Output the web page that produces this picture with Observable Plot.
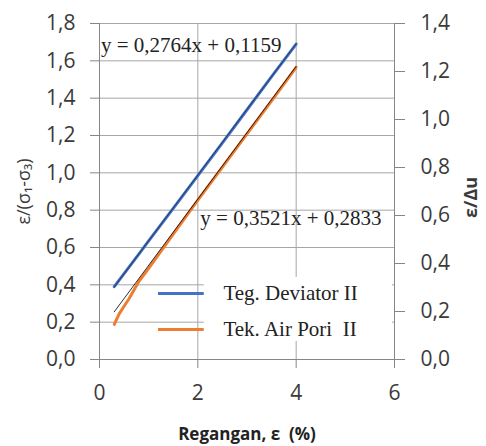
<!DOCTYPE html>
<html><head><meta charset="utf-8">
<script src="https://cdn.jsdelivr.net/npm/d3@7"></script>
<script src="https://cdn.jsdelivr.net/npm/@observablehq/plot@0.6"></script>
<style>html,body{margin:0;padding:0;background:#fff}</style>
</head><body><div id="chart"></div>
<script>
// Strain (%)
const strain = [0.3, 0.4, 0.5, 0.6, 0.8, 1.0, 1.5, 2.0, 2.5, 3.0, 3.5, 4.0];
// Teg. Deviator II  (left axis: ε/(σ1-σ3))
const deviator = [0.39, 0.425, 0.46, 0.495, 0.565, 0.635, 0.81, 0.985, 1.16, 1.338, 1.515, 1.69];
// Tek. Air Pori II  (right axis: ε/Δu)
const porePressure = [0.146, 0.19, 0.222, 0.253, 0.325, 0.38, 0.522, 0.664, 0.802, 0.94, 1.078, 1.217];
const seriesNames = ["Teg. Deviator II", "Tek. Air Pori  II"];
const seriesColors = ["#4472c4", "#ed7d31"];
// Trendline equations as printed on the chart
const trendSlopes = [0.3521, 0.2764];
const trendIntercepts = [0.2833, 0.1159];
const equationLabels = ["y = 0,2764x + 0,1159", "y = 0,3521x + 0,2833"];
// Axes
const xTicks = [0, 2, 4, 6];
const leftTicks = [0, 0.2, 0.4, 0.6, 0.8, 1.0, 1.2, 1.4, 1.6, 1.8];
const rightTicks = [0, 0.2, 0.4, 0.6, 0.8, 1.0, 1.2, 1.4];
const xLabel = "Regangan, ε  (%)";
const yLabel = "ε/(σ₁-σ₃)";
const y2Label = "ε/Δu";

const yMax = 1.8, y2Max = 1.4;
const k = yMax / y2Max; // right-axis values mapped onto left scale
const fmt = d => d3.format(".1f")(d).replace(".", ",");

// layout annotations (data coordinates)
const eqPos = [{x: 0.03, y: 1.65}, {x: 2.05, y: 0.718}];
const legendBox = {x1: 2.13, x2: 5.96, y1: 0.097, y2: 0.44};
const legendY = [0.354, 0.161];
const trendX = [0.3, 4.0];
const trendBlue = trendX.map(x => trendSlopes[0] * x + trendIntercepts[0]);
const trendOrange = trendX.map(x => (trendSlopes[1] * x + trendIntercepts[1]) * k);

const grid = "#a6a6a6", axisCol = "#868686", txt = "#3a3a3a";
const sans = "'Open Sans', 'Liberation Sans', 'DejaVu Sans', sans-serif";
const serif = "'Liberation Serif', 'DejaVu Serif', serif";

const chart = Plot.plot({
  width: 486, height: 446,
  marginLeft: 99, marginRight: 92, marginTop: 23, marginBottom: 87,
  x: {domain: [0, 6]},
  y: {domain: [0, yMax]},
  style: {fontFamily: sans, fontSize: "20px", color: txt, background: "#fff"},
  marks: [
    Plot.gridY(leftTicks, {stroke: grid, strokeOpacity: 1}),
    Plot.gridX(xTicks, {stroke: grid, strokeOpacity: 1}),
    Plot.rect([legendBox], {x1: "x1", x2: "x2", y1: "y1", y2: "y2", fill: "#fff"}),
    Plot.ruleY([0], {stroke: axisCol}),
    Plot.ruleX([0, 6], {stroke: axisCol}),
    Plot.axisY(leftTicks, {anchor: "left", tickSize: 9, tickPadding: 15, tickFormat: fmt, stroke: axisCol, fill: txt, fontSize: 21, label: null}),
    Plot.axisY(rightTicks.map(t => t * k), {anchor: "right", tickSize: 10, tickPadding: 16, tickFormat: d => fmt(d / k), stroke: axisCol, fill: txt, fontSize: 21, label: null}),
    Plot.axisX(xTicks, {anchor: "bottom", tickSize: 9, tickPadding: 17, tickFormat: d => String(d), stroke: axisCol, fill: txt, fontSize: 21, label: null}),
    Plot.line(strain, {x: strain, y: deviator, stroke: seriesColors[0], strokeWidth: 3}),
    Plot.line(strain, {x: strain, y: porePressure.map(v => v * k), stroke: seriesColors[1], strokeWidth: 3}),
    Plot.line(trendX, {x: trendX, y: trendBlue, stroke: "#1f2a44", strokeWidth: 1, strokeOpacity: 0.8}),
    Plot.line(trendX, {x: trendX, y: trendOrange, stroke: "#000", strokeWidth: 1, strokeOpacity: 0.8}),
    Plot.text(equationLabels, {x: eqPos.map(d => d.x), y: eqPos.map(d => d.y), text: d => d, textAnchor: "start", lineAnchor: "bottom", fontFamily: serif, fontSize: 21, fill: "#222"}),
    Plot.ruleY([legendY[0]], {x1: 1.2, x2: 2.13, stroke: seriesColors[0], strokeWidth: 3}),
    Plot.ruleY([legendY[1]], {x1: 1.2, x2: 2.13, stroke: seriesColors[1], strokeWidth: 3}),
    Plot.text(seriesNames, {x: 2.52, y: legendY, text: d => d, textAnchor: "start", lineAnchor: "middle", fontFamily: serif, fontSize: 21, fill: "#222"}),
    Plot.text([yLabel], {frameAnchor: "left", textAnchor: "middle", lineAnchor: "middle", dx: -75, rotate: -90, fontSize: 18, fill: txt}),
    Plot.text([y2Label], {frameAnchor: "right", textAnchor: "middle", lineAnchor: "middle", dx: 77, dy: 6, rotate: -90, fontSize: 18, fontWeight: "bold", fill: txt}),
    Plot.text([xLabel], {frameAnchor: "bottom", dy: 80, lineAnchor: "bottom", fontSize: 17, fontWeight: "bold", fill: "#222"})
  ]
});
document.getElementById("chart").appendChild(chart);
</script>
</body></html>
